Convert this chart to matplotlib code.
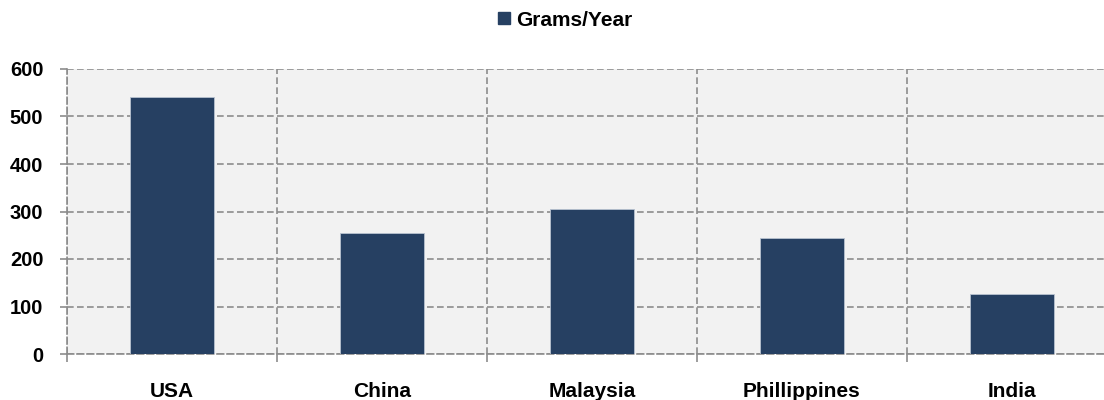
import matplotlib
matplotlib.use("Agg")
import matplotlib.pyplot as plt
from matplotlib.patches import Patch

countries = ["USA", "China", "Malaysia", "Phillippines", "India"]
grams_per_year = [542, 255, 305, 244, 127]
series_name = "Grams/Year"
y_ticks = [0, 100, 200, 300, 400, 500, 600]

plt.rcParams["font.family"] = ["Liberation Sans", "DejaVu Sans"]

bar_color = "#264062"
grid_color = "#8c8c8c"

fig = plt.figure(figsize=(11.04, 4.0), dpi=100)
ax = fig.add_axes([67 / 1104, 46 / 400, 1050 / 1104, 285 / 400])
ax.set_facecolor("#f2f2f2")

x = list(range(len(countries)))
ax.bar(x, grams_per_year, width=0.4, color=bar_color,
       edgecolor="#b8c2d0", linewidth=0.6, zorder=3)

ax.set_xlim(-0.5, len(countries) - 0.5)
ax.set_ylim(0, 600)
ax.set_yticks(y_ticks)
ax.set_yticklabels([str(v) for v in y_ticks], fontsize=14.5, fontweight="bold")

# category labels sit between boundary ticks
ax.set_xticks(x)
ax.set_xticklabels(countries, fontsize=15, fontweight="bold")
ax.tick_params(axis="x", length=0, pad=20)
ax.set_xticks([i - 0.5 for i in range(len(countries) + 1)], minor=True)
ax.tick_params(axis="x", which="minor", length=6, color=grid_color, width=1.2)
ax.tick_params(axis="y", length=5, color=grid_color, width=1.2, pad=12)

ax.grid(True, axis="y", which="major", color=grid_color, linestyle=(0, (4, 2)),
        linewidth=1.2, zorder=1)
ax.grid(True, axis="x", which="minor", color=grid_color, linestyle=(0, (4, 2)),
        linewidth=1.2, zorder=1)
for side in ("top", "right"):
    ax.spines[side].set_visible(False)
for side in ("left", "bottom"):
    ax.spines[side].set_color(grid_color)
    ax.spines[side].set_linestyle((0, (4, 2)))
    ax.spines[side].set_linewidth(1.2)

handle = Patch(facecolor=bar_color, edgecolor=bar_color)
fig.legend([handle], [series_name], loc="center", bbox_to_anchor=(0.512, 0.95),
           frameon=False, handlelength=0.55, handleheight=0.55, handletextpad=0.3,
           prop={"weight": "bold", "size": 15})

fig.savefig("out.png", dpi=100)
